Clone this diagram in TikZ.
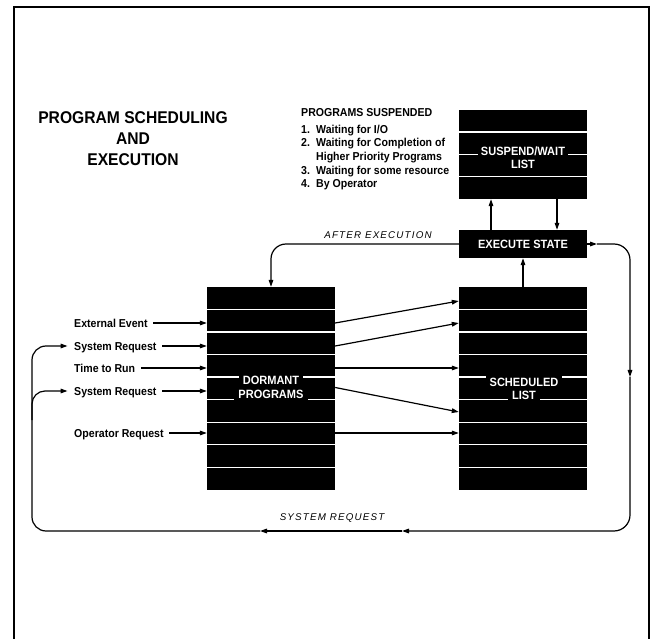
\documentclass[tikz,border=0pt]{standalone}
\usepackage{fontspec}
\setmainfont{Liberation Sans}[FakeStretch=0.92]
\newfontfamily\spacedfont{Liberation Sans}[LetterSpace=12]
\usetikzlibrary{arrows.meta}
\begin{document}
\begin{tikzpicture}[x=1pt,y=-1pt,
  arr/.style={-{Triangle[length=7pt,width=4.6pt]}, line width=1.2pt},
  blk/.style={fill=black, inner sep=0pt, minimum width=128pt},
  sepline/.style={white, line width=1.2pt},
  boxtext/.style={fill=black, text=white, font=\fontsize{12}{14}\selectfont\bfseries, text height=8.6pt, text depth=0pt, inner xsep=4pt, inner ysep=2.6pt},
  lbl/.style={font=\fontsize{11.5}{13.4}\selectfont\bfseries, anchor=west, inner xsep=4.5pt, inner ysep=1pt, text height=8.3pt, text depth=0pt},
  itl/.style={font=\fontsize{9.8}{12}\selectfont\spacedfont\itshape, inner sep=0pt},
]
\useasboundingbox (0,0) rectangle (654,639);
\fill[white] (0,0) rectangle (654,639);
% frame
\draw[line width=1.6pt] (14,639) -- (14,7) -- (649,7) -- (649,639);

% title and list
\node[inner sep=0pt, align=center, font=\fontsize{17}{21}\selectfont\bfseries] (title) at (133,139) {PROGRAM SCHEDULING\\AND\\EXECUTION};
\node[anchor=north west, inner sep=0pt, align=left, font=\fontsize{11.5}{13.7}\selectfont\bfseries] (plist) at (301,108.3) {PROGRAMS SUSPENDED\\[2.8pt]
\makebox[15pt][l]{1.}Waiting for I/O\\
\makebox[15pt][l]{2.}Waiting for Completion of\\
\hspace*{15pt}Higher Priority Programs\\
\makebox[15pt][l]{3.}Waiting for some resource\\
\makebox[15pt][l]{4.}By Operator};

% boxes
\node[blk, minimum height=89pt] (susp) at (523,154.5) {};
\node[blk, minimum height=28pt] (exec) at (523,244) {};
\node[blk, minimum height=203pt] (dorm) at (271,388.5) {};
\node[blk, minimum height=203pt] (sched) at (523,388.5) {};

\foreach \k in {1,2,3}
  \draw[sepline] ([yshift=-\k*22.25pt]susp.north west) -- ([yshift=-\k*22.25pt]susp.north east);
\foreach \k in {1,...,8}{
  \draw[sepline] ([yshift=-\k*22.556pt]dorm.north west) -- ([yshift=-\k*22.556pt]dorm.north east);
  \draw[sepline] ([yshift=-\k*22.556pt]sched.north west) -- ([yshift=-\k*22.556pt]sched.north east);
}

\node[boxtext, inner xsep=2.5pt] (suspA) at (523,151) {SUSPEND/WAIT};
\node[boxtext] (suspB) at (523,164) {LIST};
\node[boxtext, inner ysep=1pt] (execT) at (exec.center) {EXECUTE STATE};
\node[boxtext] (dormA) at (271,380) {DORMANT};
\node[boxtext] (dormB) at (271,394.5) {PROGRAMS};
\node[boxtext] (schedA) at (524,382) {SCHEDULED};
\node[boxtext] (schedB) at (524,395) {LIST};

% left labels
\node[lbl] (ee) at (69.5,323) {External Event};
\node[lbl] (sr1) at (69.5,346) {System Request};
\node[lbl] (ttr) at (69.5,368) {Time to Run};
\node[lbl] (sr2) at (69.5,391) {System Request};
\node[lbl] (opr) at (69.5,433) {Operator Request};

\foreach \n in {ee,sr1,ttr,sr2,opr}
  \draw[arr] ([xshift=1pt]\n.east) -- (\n.east -| dorm.west);

% dormant -> scheduled
\coordinate (s1) at (0,301);
\coordinate (d5) at (0,387.5);
\coordinate (s6) at (0,412);
\draw[arr] (dorm.east |- ee) -- (sched.west |- s1);
\draw[arr] (dorm.east |- sr1) -- (sched.west |- ee);
\draw[arr] (dorm.east |- ttr) -- (sched.west |- ttr);
\draw[arr] (dorm.east |- d5) -- (sched.west |- s6);
\draw[arr] (dorm.east |- opr) -- (sched.west |- opr);

% execute connections
\draw[arr] (sched.north) -- (exec.south);
\draw[arr] ([xshift=-32pt]exec.north) -- ([xshift=-32pt]susp.south);
\draw[arr] ([xshift=34pt]susp.south) -- ([xshift=34pt]exec.north);
\draw[arr, rounded corners=15pt] (exec.west) -| (dorm.north);
\node[itl] (aexe) at (378,235) {AFTER EXECUTION};

% system request loop
\coordinate (ra) at (597,244);
\coordinate (cTR) at (630,244);
\coordinate (rb) at (630,377);
\coordinate (cBR) at (630,531);
\coordinate (bl1) at (402,531);
\coordinate (bl2) at (260,531);
\coordinate (cBL) at (32,531);
\coordinate (cMs) at (32,420);
\draw[arr] (exec.east) -- (ra);
\draw[arr, rounded corners=16pt] (ra) -- (cTR) -- (rb);
\draw[arr, rounded corners=16pt] (rb) -- (cBR) -- (bl1);
\draw[arr] (bl1) -- (bl2);
\draw[arr, rounded corners=14pt, shorten >=2pt] (bl2) -- (cBL) -- (cBL |- sr1.west) -- (sr1.west);
\draw[arr, rounded corners=13pt, shorten >=2pt] (cMs) -- (cMs |- sr2.west) -- (sr2.west);
\node[itl] (sreq) at (332,518) {SYSTEM REQUEST};
\end{tikzpicture}
\end{document}
